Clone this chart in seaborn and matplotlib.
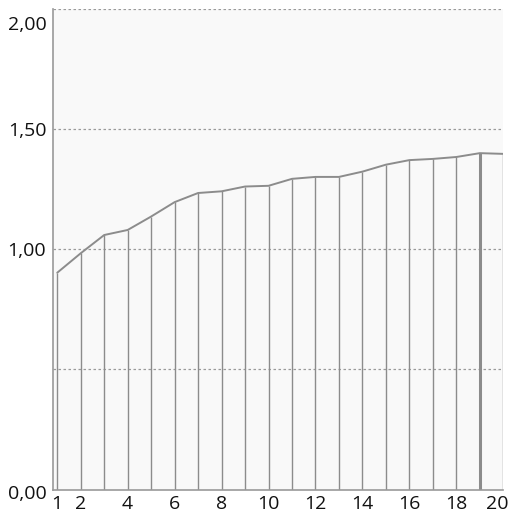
import matplotlib
matplotlib.use("Agg")
import matplotlib.pyplot as plt
import matplotlib.transforms as mtransforms
import seaborn as sns
import pandas as pd

steps = list(range(1, 21))
values = [0.903, 0.984, 1.060, 1.081, 1.137, 1.197, 1.235, 1.242, 1.262, 1.265,
          1.294, 1.302, 1.302, 1.324, 1.353, 1.372, 1.377, 1.385, 1.401, 1.398]
x_ticks = [1, 2, 4, 6, 8, 10, 12, 14, 16, 18, 20]
y_ticks = [0.0, 1.0, 1.5, 2.0]
y_labels = ["0,00", "1,00", "1,50", "2,00"]
grid_levels = [0.5, 1.0, 1.5, 2.0]

sns.set_style("white")
plt.rcParams["font.family"] = ["Open Sans", "DejaVu Sans"]

df = pd.DataFrame({"step": steps, "value": values})

fig = plt.figure(figsize=(5.12, 5.13), dpi=100)
ax = fig.add_axes([0.104, 0.0458, 0.879, 0.936])
ax.set_facecolor("#f9f9f9")

line_col = "#8c8c8c"
for g in grid_levels:
    ax.axhline(g, color="#9a9a9a", lw=0.9, ls=(0, (2, 2)), zorder=1)

widths = [1.0] * len(steps)
widths[18] = 2.2
ax.vlines(df["step"], 0, df["value"], colors=line_col, linewidths=widths, zorder=2)
sns.lineplot(data=df, x="step", y="value", ax=ax, color=line_col, lw=1.4, zorder=3)

ax.set_xlim(0.83, 20.0)
ax.set_ylim(0, 2.0)
ax.set_xticks(x_ticks)
ax.set_xticklabels([str(t) for t in x_ticks])
ax.set_yticks(y_ticks)
ax.set_yticklabels(y_labels)
ax.set_xlabel("")
ax.set_ylabel("")
ax.tick_params(axis="x", length=4, width=1, color="#999999", pad=0, labelsize=14, labelcolor="#111111")
ax.tick_params(axis="y", length=0, pad=5, labelsize=14, labelcolor="#111111")


def nudge(label, dx, dy):
    label.set_transform(label.get_transform()
                        + mtransforms.ScaledTranslation(dx / 72, dy / 72, fig.dpi_scale_trans))


# keep the end labels inside the canvas
y_shifts = {"0,00": -2, "2,00": -10}
for lbl in ax.get_yticklabels():
    dy = y_shifts.get(lbl.get_text(), 0)
    if dy:
        nudge(lbl, 0, dy)
for lbl in ax.get_xticklabels():
    if lbl.get_text() == "20":
        nudge(lbl, -4, 0)

for side in ["top", "right"]:
    ax.spines[side].set_visible(False)
for side in ["left", "bottom"]:
    ax.spines[side].set_color("#999999")
    ax.spines[side].set_linewidth(1.2)

fig.savefig("out.png", dpi=100, facecolor="white")
